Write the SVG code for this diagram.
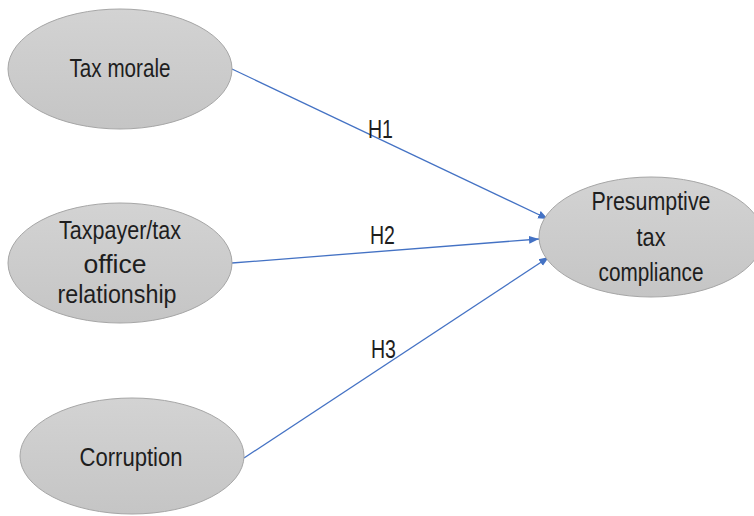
<svg xmlns="http://www.w3.org/2000/svg" width="754" height="516" viewBox="0 0 754 516">
<defs>
<linearGradient id="g" x1="0" y1="0" x2="0" y2="1">
<stop offset="0" stop-color="#d3d3d3"/>
<stop offset="1" stop-color="#c5c5c5"/>
</linearGradient>
<marker id="arr" viewBox="0 0 10 10" refX="10" refY="5" markerWidth="10" markerHeight="10" markerUnits="userSpaceOnUse" orient="auto">
<path d="M0,1 L10,5 L0,9 Z" fill="#4472c4"/>
</marker>
</defs>
<style>
.node ellipse{fill:url(#g);stroke:#a6a6a6;stroke-width:1}
text{font-family:"Liberation Sans","DejaVu Sans",sans-serif;font-size:25px;fill:#1e1e1e;text-anchor:middle}
.edges line{stroke:#4472c4;stroke-width:1.3;marker-end:url(#arr)}
.lbl{text-anchor:start}
</style>
<rect width="754" height="516" fill="#ffffff"/>
<g class="edges" id="connectors">
<line x1="232" y1="69" x2="548" y2="219"/>
<line x1="232" y1="263" x2="539" y2="239"/>
<line x1="244" y1="458" x2="549" y2="257"/>
<text class="lbl" x="368" y="138" textLength="25" lengthAdjust="spacingAndGlyphs">H1</text>
<text class="lbl" x="370" y="244" textLength="25" lengthAdjust="spacingAndGlyphs">H2</text>
<text class="lbl" x="371" y="358" textLength="25" lengthAdjust="spacingAndGlyphs">H3</text>
</g>
<g class="node" id="tax-morale">
<ellipse cx="120" cy="69" rx="112" ry="60"/>
<text x="120" y="77" textLength="101" lengthAdjust="spacingAndGlyphs">Tax morale</text>
</g>
<g class="node" id="relationship">
<ellipse cx="120" cy="263" rx="112" ry="60"/>
<text x="120" y="239" textLength="122" lengthAdjust="spacingAndGlyphs">Taxpayer/tax</text>
<text x="115" y="273" textLength="63" lengthAdjust="spacingAndGlyphs">office</text>
<text x="117" y="303" textLength="119" lengthAdjust="spacingAndGlyphs">relationship</text>
</g>
<g class="node" id="corruption">
<ellipse cx="132" cy="456" rx="112" ry="58"/>
<text x="131" y="466" textLength="103" lengthAdjust="spacingAndGlyphs">Corruption</text>
</g>
<g class="node" id="compliance">
<ellipse cx="651" cy="237" rx="112" ry="60"/>
<text x="651" y="210" textLength="119" lengthAdjust="spacingAndGlyphs">Presumptive</text>
<text x="651" y="246" textLength="29" lengthAdjust="spacingAndGlyphs">tax</text>
<text x="651" y="281" textLength="105" lengthAdjust="spacingAndGlyphs">compliance</text>
</g>
</svg>
